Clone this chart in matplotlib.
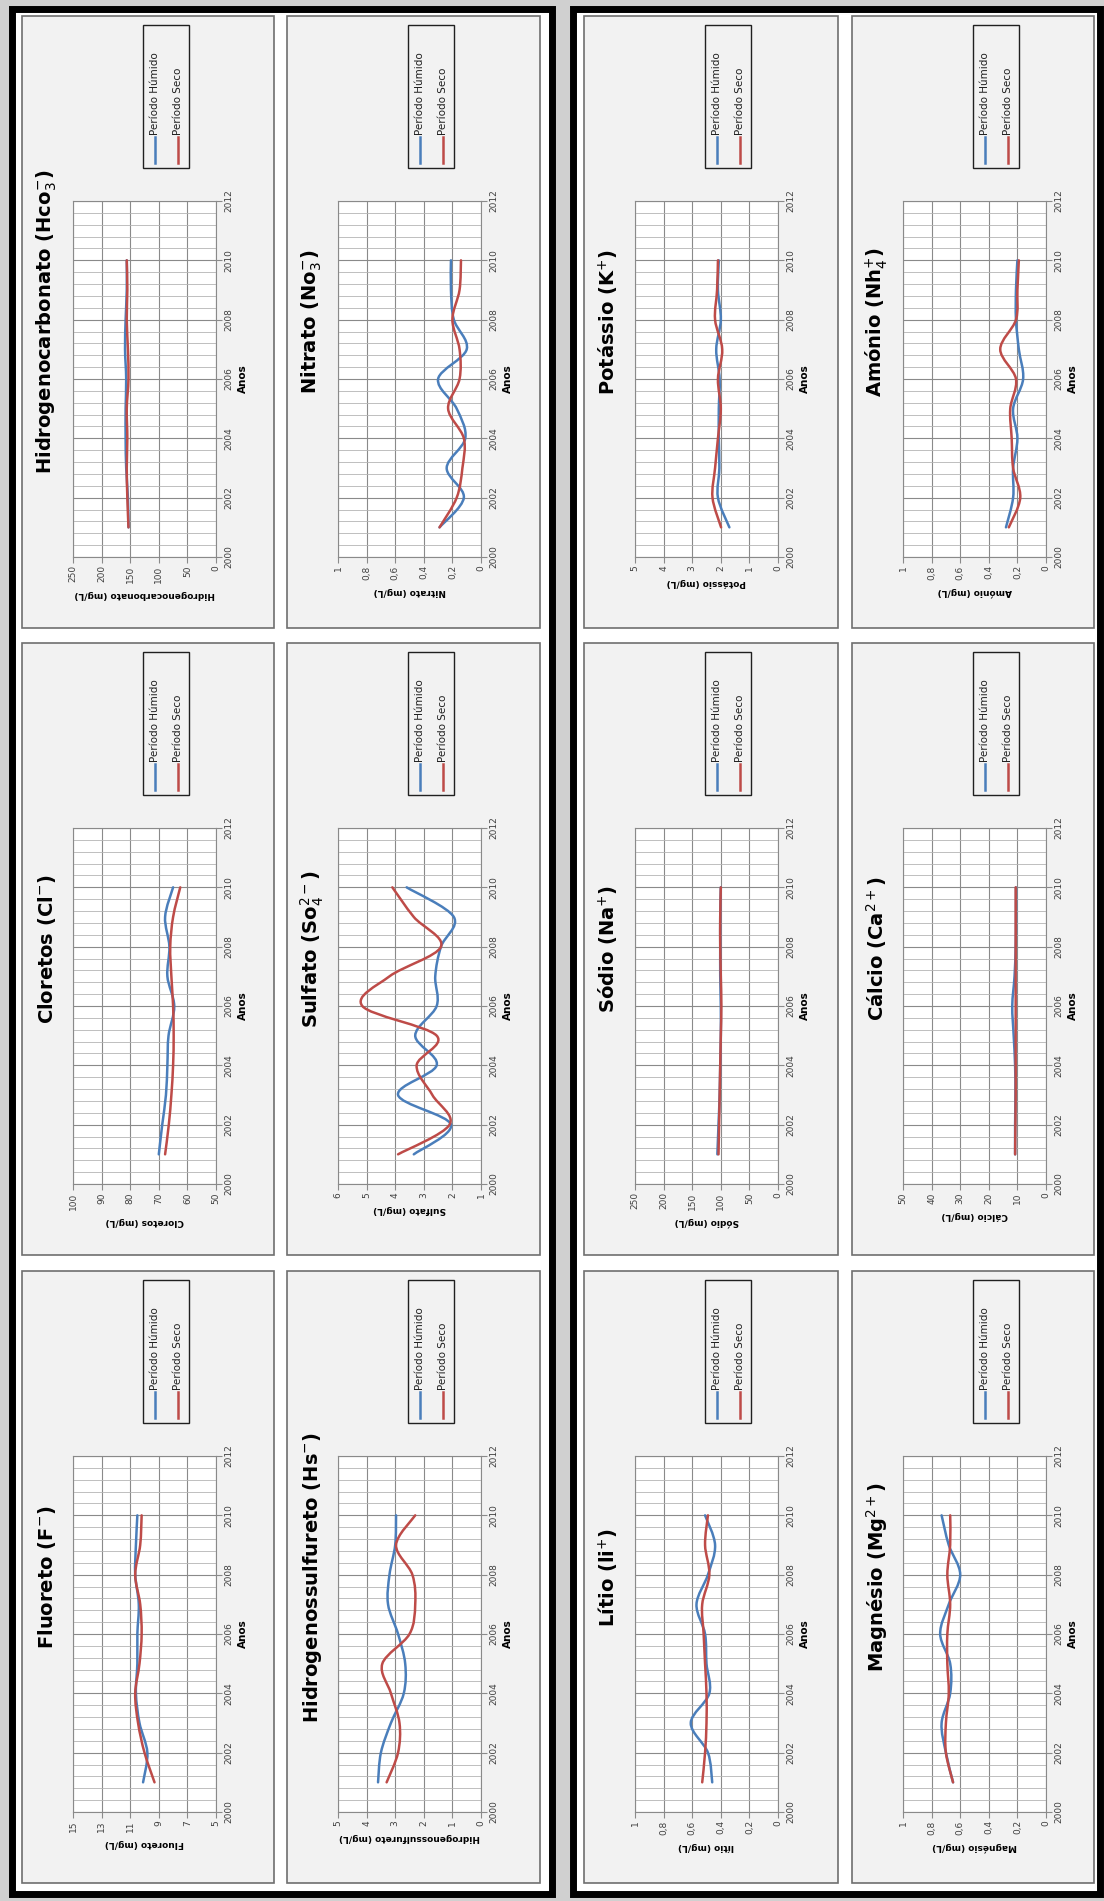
import numpy as np
import matplotlib.pyplot as plt
from matplotlib.path import Path
from matplotlib.patches import PathPatch, Rectangle
from matplotlib.lines import Line2D

W, H = 1104, 1901
BLUE = '#4a7ebb'
RED = '#be4b48'

years = [2001, 2002, 2003, 2004, 2005, 2006, 2007, 2008, 2009, 2010]
series_names = ['Período Húmido', 'Período Seco']

# valores (mg/L)
fluoreto_humido = [10.1, 9.8, 10.35, 10.6, 10.5, 10.5, 10.4, 10.65, 10.6, 10.5]
fluoreto_seco = [9.3, 10.0, 10.45, 10.65, 10.35, 10.2, 10.3, 10.65, 10.3, 10.2]
cloretos_humido = [70, 68.8, 67.5, 67, 66.6, 64.6, 67, 66.3, 67.8, 65]
cloretos_seco = [67.8, 66.5, 65.6, 65, 64.8, 65, 65.6, 66, 65, 62.5]
hco3_humido = [153, 154, 157, 158, 158, 157, 159, 158, 156, 156]
hco3_seco = [153, 155, 156, 155, 156, 153, 154, 156, 155, 156]
hs_humido = [3.6, 3.5, 3.15, 2.7, 2.65, 2.9, 3.25, 3.2, 3.0, 2.97]
hs_seco = [3.3, 2.9, 2.85, 3.15, 3.45, 2.5, 2.3, 2.4, 2.97, 2.3]
sulfato_humido = [3.35, 2.05, 3.9, 2.55, 3.3, 2.55, 2.6, 2.4, 1.95, 3.6]
sulfato_seco = [3.9, 2.1, 2.7, 3.25, 2.55, 5.15, 4.2, 2.4, 3.35, 4.1]
nitrato_humido = [0.29, 0.12, 0.24, 0.11, 0.17, 0.30, 0.10, 0.19, 0.21, 0.21]
nitrato_seco = [0.29, 0.17, 0.13, 0.12, 0.23, 0.15, 0.15, 0.20, 0.15, 0.14]
litio_humido = [0.46, 0.49, 0.61, 0.48, 0.50, 0.51, 0.57, 0.49, 0.44, 0.51]
litio_seco = [0.53, 0.51, 0.50, 0.50, 0.51, 0.52, 0.53, 0.48, 0.51, 0.49]
sodio_humido = [106, 104, 102, 101, 100, 100, 101, 101, 101, 100]
sodio_seco = [104, 103, 102, 101, 100, 99, 100, 101, 101, 100]
potassio_humido = [1.7, 2.1, 2.05, 2.07, 2.07, 2.04, 2.16, 2.0, 2.1, 2.07]
potassio_seco = [1.99, 2.29, 2.2, 2.1, 2.0, 2.1, 1.95, 2.2, 2.13, 2.1]
magnesio_humido = [0.65, 0.70, 0.73, 0.67, 0.67, 0.74, 0.68, 0.60, 0.68, 0.73]
magnesio_seco = [0.65, 0.70, 0.70, 0.68, 0.69, 0.69, 0.67, 0.69, 0.67, 0.67]
calcio_humido = [10.8, 10.8, 10.7, 10.8, 11.3, 11.8, 11.0, 10.6, 10.5, 10.5]
calcio_seco = [10.8, 10.7, 10.6, 10.6, 10.6, 10.6, 10.6, 10.6, 10.6, 10.6]
amonio_humido = [0.28, 0.23, 0.23, 0.20, 0.23, 0.16, 0.19, 0.21, 0.21, 0.20]
amonio_seco = [0.26, 0.18, 0.23, 0.24, 0.25, 0.21, 0.32, 0.21, 0.20, 0.19]

ticks_0_1 = [0, 0.2, 0.4, 0.6, 0.8, 1]
ticks_0_5 = [0, 1, 2, 3, 4, 5]
ticks_0_250 = [0, 50, 100, 150, 200, 250]

# (título, rótulo do eixo, ticks, húmido, seco)
charts = [
    ('Hidrogenocarbonato (Hco$_3^{-}$)', 'Hidrogenocarbonato (mg/L)', ticks_0_250, hco3_humido, hco3_seco),
    ('Cloretos (Cl$^{-}$)', 'Cloretos (mg/L)', [50, 60, 70, 80, 90, 100], cloretos_humido, cloretos_seco),
    ('Fluoreto (F$^{-}$)', 'Fluoreto (mg/L)', [5, 7, 9, 11, 13, 15], fluoreto_humido, fluoreto_seco),
    ('Nitrato (No$_3^{-}$)', 'Nitrato (mg/L)', ticks_0_1, nitrato_humido, nitrato_seco),
    ('Sulfato (So$_4^{2-}$)', 'Sulfato (mg/L)', [1, 2, 3, 4, 5, 6], sulfato_humido, sulfato_seco),
    ('Hidrogenossulfureto (Hs$^{-}$)', 'Hidrogenossulfureto (mg/L)', ticks_0_5, hs_humido, hs_seco),
    ('Potássio (K$^{+}$)', 'Potássio (mg/L)', ticks_0_5, potassio_humido, potassio_seco),
    ('Sódio (Na$^{+}$)', 'Sódio (mg/L)', ticks_0_250, sodio_humido, sodio_seco),
    ('Lítio (li$^{+}$)', 'lítio (mg/L)', ticks_0_1, litio_humido, litio_seco),
    ('Amónio (Nh$_4^{+}$)', 'Amónio (mg/L)', ticks_0_1, amonio_humido, amonio_seco),
    ('Cálcio (Ca$^{2+}$)', 'Cálcio (mg/L)', [0, 10, 20, 30, 40, 50], calcio_humido, calcio_seco),
    ('Magnésio (Mg$^{2+}$)', 'Magnésio (mg/L)', ticks_0_1, magnesio_humido, magnesio_seco),
]

col_left = [22, 22, 22, 287, 287, 287, 584, 584, 584, 852, 852, 852]
col_width = [252, 252, 252, 253, 253, 253, 254, 254, 254, 242, 242, 242]
row_top = [16, 643, 1271] * 4
BOX_H = 612


def fx(x):
    return x / W


def fy(y):
    return 1 - y / H


def smooth_path(xs, ys):
    # curva suavizada tipo Excel (Bezier entre os pontos)
    pts = np.column_stack([xs, ys]).astype(float)
    n = len(pts)
    verts = [pts[0]]
    codes = [Path.MOVETO]
    for i in range(n - 1):
        p0 = pts[i - 1] if i > 0 else pts[i]
        p1, p2 = pts[i], pts[i + 1]
        p3 = pts[i + 2] if i + 2 < n else pts[i + 1]
        verts += [p1 + (p2 - p0) / 6, p2 - (p3 - p1) / 6, p2]
        codes += [Path.CURVE4] * 3
    return Path(verts, codes)


def fmt(v):
    return ('%g' % v).replace('.', ',')


fig = plt.figure(figsize=(W / 100, H / 100), dpi=100, facecolor='#d0d0d0')

# molduras pretas dos dois painéis
for x0, x1 in [(12, 552), (573, 1100)]:
    fig.add_artist(Rectangle((fx(x0), fy(1894)), (x1 - x0) / W, (1894 - 9) / H,
                             transform=fig.transFigure, facecolor='white',
                             edgecolor='black', lw=5, zorder=-10))

for k, (title, ylab, ticks, hum, sec) in enumerate(charts):
    L, T, BW = col_left[k], row_top[k], col_width[k]
    fig.add_artist(Rectangle((fx(L), fy(T + BOX_H)), BW / W, BOX_H / H,
                             transform=fig.transFigure, facecolor='#f2f2f2',
                             edgecolor='#6f6f6f', lw=1.2, zorder=-5))
    fig.text(fx(L + 25), fy(T + 306), title, rotation=90, ha='center', va='center',
             fontsize=14, fontweight='bold', color='black')

    ax = fig.add_axes([fx(L + 51), fy(T + 541), 143 / W, 356 / H])
    ax.set_facecolor('white')
    ax.set_xlim(ticks[-1], ticks[0])
    ax.set_ylim(2000, 2012)
    ax.set_xticks(ticks)
    ax.set_xticklabels([fmt(t) for t in ticks], rotation=90)
    ax.set_yticks(range(2000, 2013, 2))
    ax.set_yticklabels([str(y) for y in range(2000, 2013, 2)], rotation=90, va='center')
    ax.set_yticks(np.arange(2000, 2012.01, 0.4), minor=True)
    ax.yaxis.tick_right()
    ax.yaxis.set_label_position('right')
    ax.grid(which='major', color='#8a8a8a', lw=0.8)
    ax.grid(which='minor', axis='y', color='#b4b4b4', lw=0.6)
    ax.set_axisbelow(True)
    ax.tick_params(which='major', length=4, width=0.8, color='#8a8a8a',
                   labelsize=6.5, labelcolor='#404040', pad=2)
    ax.tick_params(which='minor', length=0)
    for sp in ax.spines.values():
        sp.set_color('#8a8a8a')
        sp.set_linewidth(0.8)
    ax.set_xlabel(ylab, rotation=180, fontsize=6.5, fontweight='bold', labelpad=5)
    ax.set_ylabel('Anos', rotation=90, fontsize=7.5, fontweight='bold', labelpad=3)

    for vals, color in [(hum, BLUE), (sec, RED)]:
        ax.add_patch(PathPatch(smooth_path(vals, years), fill=False,
                               edgecolor=color, lw=1.8, capstyle='round'))

    # legenda
    fig.add_artist(Rectangle((fx(L + 121), fy(T + 152)), 46 / W, 143 / H,
                             transform=fig.transFigure, facecolor='#f2f2f2',
                             edgecolor='#202020', lw=1.0, zorder=2))
    for dx, color, name in [(133, BLUE, series_names[0]), (156, RED, series_names[1])]:
        fig.add_artist(Line2D([fx(L + dx)] * 2, [fy(T + 147), fy(T + 121)],
                              transform=fig.transFigure, color=color, lw=1.8, zorder=3))
        fig.text(fx(L + dx), fy(T + 119), name, rotation=90, ha='center', va='bottom',
                 fontsize=7.5, color='#202020', zorder=3)

fig.savefig('out.png', dpi=100, facecolor=fig.get_facecolor())
